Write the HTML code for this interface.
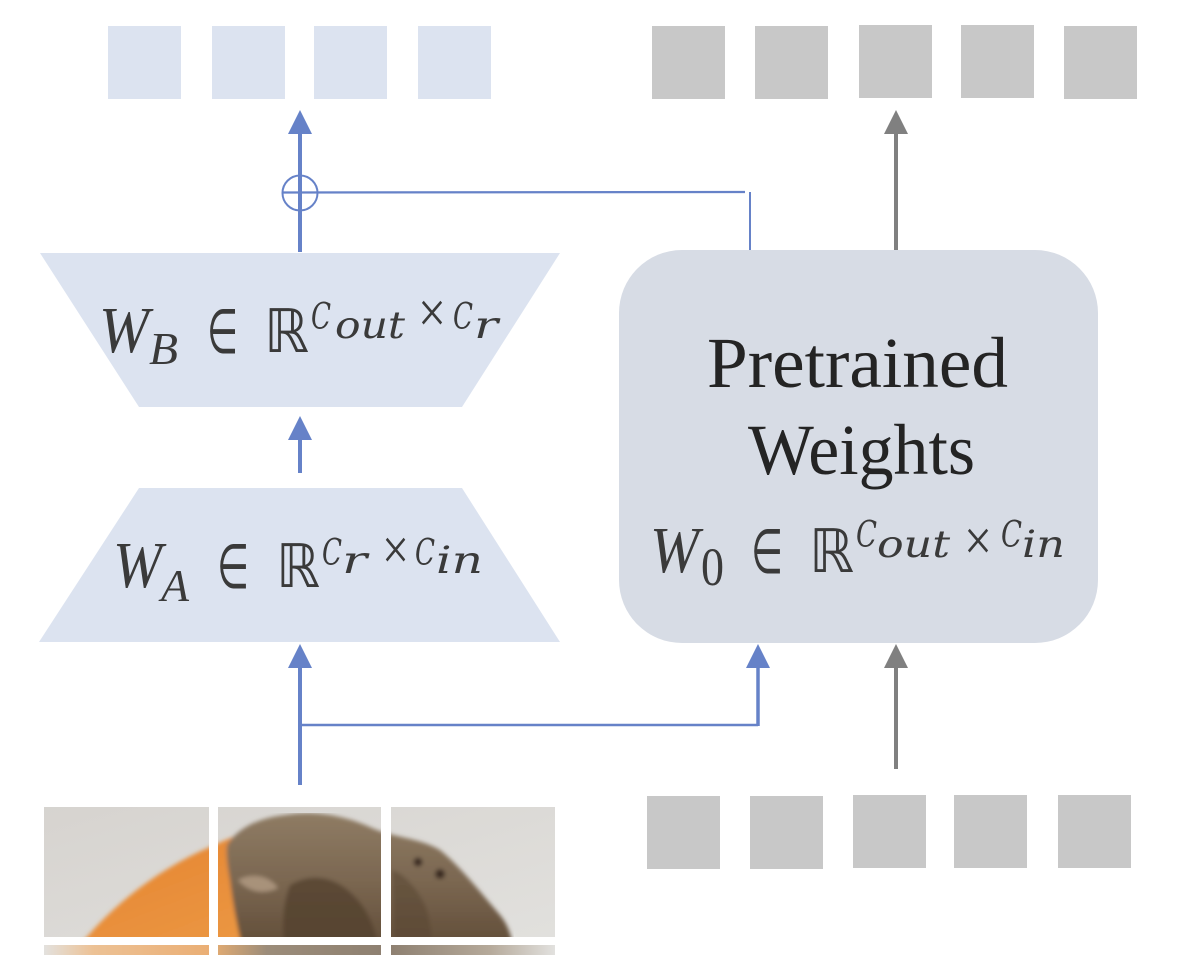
<!DOCTYPE html>
<html>
<head>
<meta charset="utf-8">
<style>
  html, body { margin:0; padding:0; background:#ffffff; }
  body { width:1193px; height:955px; overflow:hidden; }
  svg { display:block; }
  .it { font-family:"Liberation Serif","DejaVu Serif",serif; font-style:italic; fill:#3a3a3a; }
  .it2 { font-family:"DejaVu Serif","Liberation Serif",serif; font-style:italic; fill:#3a3a3a; }
  .rm { font-family:"Liberation Serif","DejaVu Serif",serif; fill:#3a3a3a; }
  .sym { font-family:"DejaVu Sans","DejaVu Serif",sans-serif; fill:#3a3a3a; }
  .ttl { font-family:"Liberation Serif","DejaVu Serif",serif; fill:#242424; }
</style>
</head>
<body>
<svg width="1193" height="955" viewBox="0 0 1193 955" xmlns="http://www.w3.org/2000/svg">
  <defs>
    <filter id="blur1" x="0" y="0" width="1" height="1">
      <feGaussianBlur stdDeviation="2.2"/>
    </filter>
    <clipPath id="t1"><rect x="44" y="807" width="165" height="130"/></clipPath>
    <clipPath id="t2"><rect x="218" y="807" width="163" height="130"/></clipPath>
    <clipPath id="t3"><rect x="391" y="807" width="164" height="130"/></clipPath>
    <linearGradient id="bg" x1="0" y1="0" x2="1" y2="1">
      <stop offset="0" stop-color="#d6d3cf"/>
      <stop offset="1" stop-color="#e2e1de"/>
    </linearGradient>
    <linearGradient id="org" x1="0" y1="0" x2="1" y2="1">
      <stop offset="0" stop-color="#e4822e"/>
      <stop offset="1" stop-color="#eea04c"/>
    </linearGradient>
    <linearGradient id="brn" x1="0" y1="0" x2="0" y2="1">
      <stop offset="0" stop-color="#8f7c64"/>
      <stop offset="0.5" stop-color="#7a6650"/>
      <stop offset="1" stop-color="#5e4a36"/>
    </linearGradient>
    <linearGradient id="s1" x1="0" y1="0" x2="1" y2="0">
      <stop offset="0" stop-color="#dcdad6"/>
      <stop offset="0.3" stop-color="#e8b27a"/>
      <stop offset="1" stop-color="#e59a52"/>
    </linearGradient>
    <linearGradient id="s2" x1="0" y1="0" x2="1" y2="0">
      <stop offset="0" stop-color="#d89a5a"/>
      <stop offset="0.3" stop-color="#8a7862"/>
      <stop offset="1" stop-color="#7a6a58"/>
    </linearGradient>
    <linearGradient id="s3" x1="0" y1="0" x2="1" y2="0">
      <stop offset="0" stop-color="#7a6a58"/>
      <stop offset="0.6" stop-color="#a89a88"/>
      <stop offset="1" stop-color="#dddcd9"/>
    </linearGradient>
    <g id="photo">
      <rect x="40" y="800" width="520" height="155" fill="url(#bg)"/>
      <g filter="url(#blur1)">
        <path d="M72,955 C110,905 160,868 212,846 C238,834 262,826 292,820 L340,835 L420,955 Z" fill="url(#org)"/>
        <path d="M227,845 C238,828 258,818 285,815 C312,810 345,815 372,828 C395,838 420,838 440,850 C460,866 480,892 500,915 C508,925 512,935 514,955 L244,955 C238,930 233,905 230,880 C228,868 226,856 227,845 Z" fill="url(#brn)"/>
        <path d="M290,885 C312,872 335,878 350,892 C368,908 376,928 380,955 L285,955 C282,930 282,905 290,885 Z" fill="#54412e" opacity="0.8"/>
        <path d="M238,880 C252,872 270,876 278,888 C264,895 248,892 238,880 Z" fill="#a8927a"/>
        <path d="M392,870 C405,874 418,890 425,905 C430,918 432,930 432,955 L395,955 Z" fill="#5a4734" opacity="0.6"/>
        <circle cx="418" cy="862" r="4.5" fill="#3a2c20"/>
        <circle cx="440" cy="874" r="5" fill="#3a2c20"/>
      </g>
    </g>
  </defs>

  <!-- Top output tokens (light blue) -->
  <g fill="#dce3f0">
    <rect x="108" y="26" width="73" height="73"/>
    <rect x="212" y="26" width="73" height="73"/>
    <rect x="314" y="26" width="73" height="73"/>
    <rect x="418" y="26" width="73" height="73"/>
  </g>
  <!-- Top output tokens (gray) -->
  <g fill="#c8c8c8">
    <rect x="652" y="26" width="73" height="73"/>
    <rect x="755" y="26" width="73" height="73"/>
    <rect x="859" y="25" width="73" height="73"/>
    <rect x="961" y="25" width="73" height="73"/>
    <rect x="1064" y="26" width="73" height="73"/>
  </g>
  <!-- Bottom input tokens (gray) -->
  <g fill="#c8c8c8">
    <rect x="647" y="796" width="73" height="73"/>
    <rect x="750" y="796" width="73" height="73"/>
    <rect x="853" y="795" width="73" height="73"/>
    <rect x="954" y="795" width="73" height="73"/>
    <rect x="1058" y="795" width="73" height="73"/>
  </g>

  <!-- Trapezoids -->
  <polygon points="40,253 560,253 462,407 139,407" fill="#dce3f0"/>
  <polygon points="139,488 462,488 560,642 39,642" fill="#dce3f0"/>

  <!-- Pretrained box -->
  <rect x="619" y="250" width="479" height="393" rx="63" ry="63" fill="#d7dce5"/>

  <!-- Blue connectors -->
  <g stroke="#6682c8" fill="none">
    <line x1="300" y1="252" x2="300" y2="130" stroke-width="4"/>
    <line x1="300" y1="473" x2="300" y2="436" stroke-width="4"/>
    <line x1="300" y1="785" x2="300" y2="664" stroke-width="4"/>
    <line x1="300" y1="725" x2="758" y2="725" stroke-width="2.5"/>
    <line x1="758" y1="726" x2="758" y2="664" stroke-width="3.5"/>
    <line x1="282" y1="192.5" x2="745" y2="192" stroke-width="2.2"/>
    <line x1="750" y1="192" x2="750" y2="250" stroke-width="2"/>
    <circle cx="300" cy="193" r="17.5" stroke-width="2"/>
  </g>
  <g fill="#6682c8">
    <polygon points="300,110 288,134 312,134"/>
    <polygon points="300,416 288,440 312,440"/>
    <polygon points="300,644 288,668 312,668"/>
    <polygon points="758,644 746,668 770,668"/>
  </g>

  <!-- Gray connectors -->
  <g stroke="#808080" stroke-width="4">
    <line x1="896" y1="250" x2="896" y2="130"/>
    <line x1="896" y1="769" x2="896" y2="664"/>
  </g>
  <g fill="#808080">
    <polygon points="896,110 884,134 908,134"/>
    <polygon points="896,644 884,668 908,668"/>
  </g>

  <!-- W_B formula -->
  <text class="it" x="99" y="352" font-size="66" textLength="50" lengthAdjust="spacingAndGlyphs">W</text>
  <text class="it" x="149" y="364" font-size="46" textLength="29" lengthAdjust="spacingAndGlyphs">B</text>
  <text class="sym" x="207" y="353" font-size="62" textLength="31" lengthAdjust="spacingAndGlyphs">∈</text>
  <text class="sym" x="264" y="352" font-size="60" textLength="45" lengthAdjust="spacingAndGlyphs">ℝ</text>
  <text class="it2" x="311" y="329" font-size="36" textLength="20" lengthAdjust="spacingAndGlyphs">C</text>
  <text class="it2" x="335" y="338" font-size="37" textLength="70" lengthAdjust="spacingAndGlyphs">out</text>
  <text class="rm" x="418" y="332" font-size="58" textLength="28" lengthAdjust="spacingAndGlyphs">×</text>
  <text class="it2" x="453" y="329" font-size="36" textLength="20" lengthAdjust="spacingAndGlyphs">C</text>
  <text class="it2" x="474" y="338" font-size="37" textLength="24" lengthAdjust="spacingAndGlyphs">r</text>

  <!-- W_A formula -->
  <text class="it" x="113" y="587" font-size="66" textLength="49" lengthAdjust="spacingAndGlyphs">W</text>
  <text class="it" x="161" y="601" font-size="46" textLength="28" lengthAdjust="spacingAndGlyphs">A</text>
  <text class="sym" x="217" y="588" font-size="62" textLength="32" lengthAdjust="spacingAndGlyphs">∈</text>
  <text class="sym" x="276" y="587" font-size="60" textLength="44" lengthAdjust="spacingAndGlyphs">ℝ</text>
  <text class="it2" x="322" y="565" font-size="36" textLength="20" lengthAdjust="spacingAndGlyphs">C</text>
  <text class="it2" x="342" y="573" font-size="37" textLength="25" lengthAdjust="spacingAndGlyphs">r</text>
  <text class="rm" x="382" y="569" font-size="58" textLength="27" lengthAdjust="spacingAndGlyphs">×</text>
  <text class="it2" x="415" y="565" font-size="36" textLength="20" lengthAdjust="spacingAndGlyphs">C</text>
  <text class="it2" x="436" y="573" font-size="37" textLength="47" lengthAdjust="spacingAndGlyphs">in</text>

  <!-- Pretrained Weights -->
  <text class="ttl" x="707" y="387" font-size="72" textLength="301" lengthAdjust="spacingAndGlyphs">Pretrained</text>
  <text class="ttl" x="748" y="474" font-size="72" textLength="227" lengthAdjust="spacingAndGlyphs">Weights</text>

  <!-- W_0 formula -->
  <text class="it" x="650" y="572" font-size="66" textLength="49" lengthAdjust="spacingAndGlyphs">W</text>
  <text class="rm" x="701" y="585" font-size="54" textLength="23" lengthAdjust="spacingAndGlyphs">0</text>
  <text class="sym" x="751" y="573" font-size="62" textLength="32" lengthAdjust="spacingAndGlyphs">∈</text>
  <text class="sym" x="809" y="572" font-size="60" textLength="45" lengthAdjust="spacingAndGlyphs">ℝ</text>
  <text class="it2" x="856" y="547" font-size="36" textLength="21" lengthAdjust="spacingAndGlyphs">C</text>
  <text class="it2" x="877" y="557" font-size="37" textLength="73" lengthAdjust="spacingAndGlyphs">out</text>
  <text class="rm" x="964" y="560" font-size="58" textLength="28" lengthAdjust="spacingAndGlyphs">×</text>
  <text class="it2" x="1001" y="547" font-size="36" textLength="21" lengthAdjust="spacingAndGlyphs">C</text>
  <text class="it2" x="1022" y="557" font-size="37" textLength="43" lengthAdjust="spacingAndGlyphs">in</text>

  <!-- Image patches -->
  <g clip-path="url(#t1)"><use href="#photo"/></g>
  <g clip-path="url(#t2)"><use href="#photo"/></g>
  <g clip-path="url(#t3)"><use href="#photo"/></g>
  <rect x="44" y="945" width="165" height="10" fill="url(#s1)" opacity="0.8"/>
  <rect x="218" y="945" width="163" height="10" fill="url(#s2)" opacity="0.85"/>
  <rect x="391" y="945" width="164" height="10" fill="url(#s3)" opacity="0.85"/>
</svg>
</body>
</html>
